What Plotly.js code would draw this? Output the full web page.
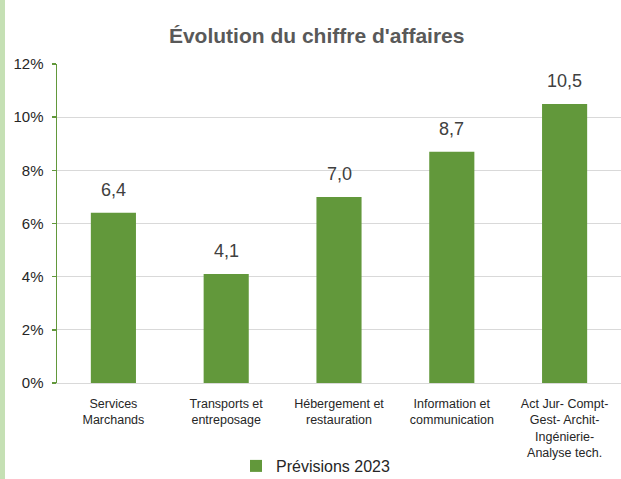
<!DOCTYPE html>
<html><head><meta charset="utf-8">
<script src="https://cdn.plot.ly/plotly-3.0.1.min.js"></script>
<style>
html,body{margin:0;padding:0;background:#fff;}
#wrap{width:616px;height:479px;border-left:5px solid #c5e0b4;}
#chart{width:616px;height:479px;}
</style></head>
<body><div id="wrap"><div id="chart"></div></div>
<script>
const categories = ["Services<br>Marchands","Transports et<br>entreposage","Hébergement et<br>restauration","Information et<br>communication","Act Jur- Compt-<br>Gest- Archit-<br>Ingénierie-<br>Analyse tech."];
const values = [6.4, 4.1, 7.0, 8.7, 10.5];
const valueLabels = ["6,4","4,1","7,0","8,7","10,5"];
const tickVals = [0,2,4,6,8,10,12];
const tickText = ["0%","2%","4%","6%","8%","10%","12%"];
const seriesName = "Prévisions 2023";
const green = "#62983b";
const font = "Liberation Sans, Arial, sans-serif";

const trace = {
  type: "bar", x: categories, y: values, name: seriesName,
  marker: {color: green}, width: 0.4, showlegend: true, hoverinfo: "none"
};
const annotations = categories.map((c,i)=>({
  x: c, y: values[i], text: valueLabels[i], showarrow: false,
  xref: "x", yref: "y", yanchor: "bottom", yshift: 11,
  font: {family: font, size: 18, color: "#404040"}
}));
const layout = {
  width: 616, height: 479,
  margin: {l: 52, r: 0, t: 64, b: 96},
  paper_bgcolor: "#fff", plot_bgcolor: "#fff",
  font: {family: font, color: "#404040"},
  title: {text: "<b>Évolution du chiffre d'affaires</b>", x: 0.506, xref: "container", xanchor: "center",
          y: 1 - 36/479, yref: "container", yanchor: "middle",
          font: {family: font, size: 21, color: "#595959"}},
  bargap: 0.6,
  xaxis: {type: "category", showline: true, linecolor: "#d9d9d9", linewidth: 1,
          ticks: "", tickfont: {family: font, size: 12.5, color: "#262626"}, ticklabelstandoff: 9,
          fixedrange: true},
  yaxis: {range: [0, 12], tickvals: tickVals, ticktext: tickText,
          showgrid: true, gridcolor: "#d9d9d9", gridwidth: 1,
          showline: true, linecolor: green, linewidth: 1.5,
          ticks: "outside", ticklen: 4, tickcolor: green, tickwidth: 1.5, ticklabelstandoff: 5,
          tickfont: {family: font, size: 15, color: "#262626"}, zeroline: false, fixedrange: true},
  legend: {orientation: "h", x: 0.375, xanchor: "left", xref: "container", y: 13/479, yref: "container", yanchor: "middle",
           font: {family: font, size: 16, color: "#262626"}, itemwidth: 30},
  annotations: annotations
};
Plotly.newPlot("chart", [trace], layout, {displayModeBar: false, staticPlot: true});
</script></body></html>
